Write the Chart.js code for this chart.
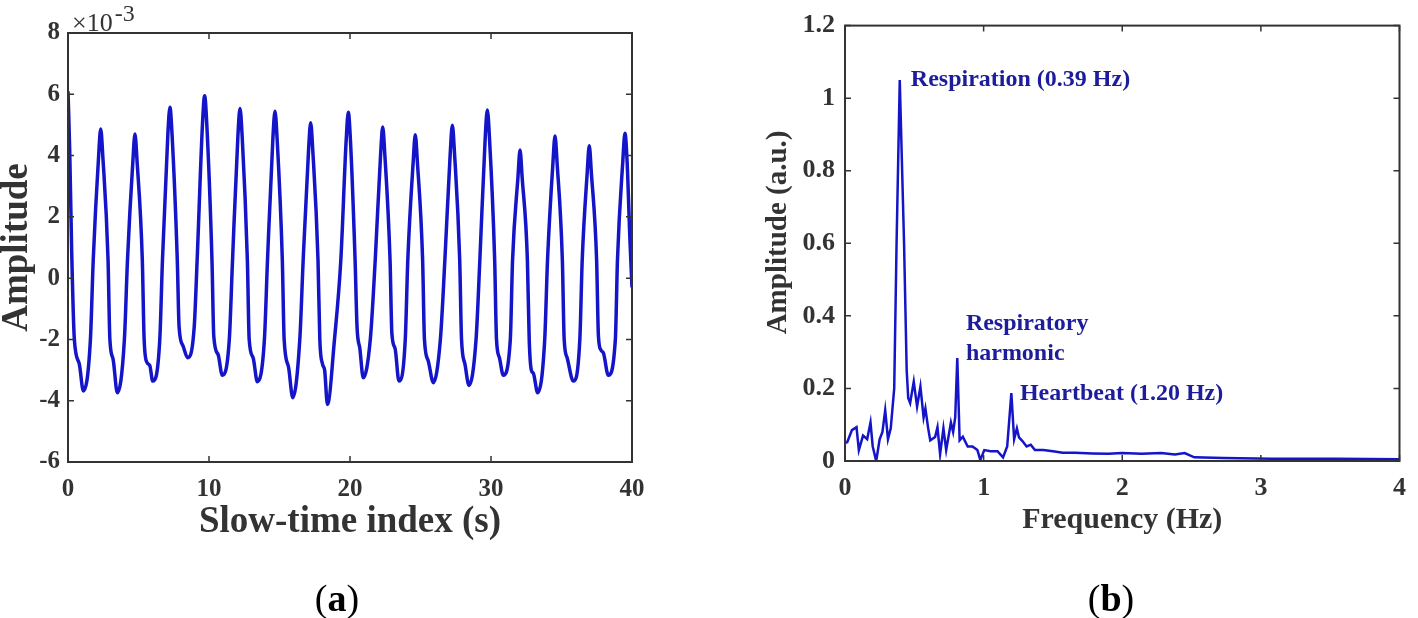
<!DOCTYPE html>
<html><head><meta charset="utf-8">
<script src="https://cdn.jsdelivr.net/npm/chart.js@4.4.1/dist/chart.umd.min.js"></script>
<style>
html,body{margin:0;padding:0;background:#fff;width:1418px;height:618px;overflow:hidden;}
canvas{position:absolute;top:0;}
#ca{left:0}
#cb{left:709px}
.lab{position:absolute;top:579px;width:80px;text-align:center;font-family:"Liberation Serif",serif;font-size:38px;line-height:38px;color:#000;}
</style></head><body>
<canvas id="ca" width="709" height="618"></canvas>
<canvas id="cb" width="709" height="618"></canvas>
<div class="lab" style="left:297px">(<b>a</b>)</div>
<div class="lab" style="left:1071px">(<b>b</b>)</div>
<script>
// ---- panel (a): slow-time signal (amplitude in units of 1e-3) ----
const timeS = [0,0.12,0.26,0.45,0.8,1.09,
1.59,1.79,2.17,2.32,2.47,2.84,2.97,3.2,3.5,
4.0,4.22,4.6,4.75,4.9,5.27,5.4,5.6,5.8,6.01,
6.51,6.70,7.08,7.23,7.38,7.75,7.88,8.15,8.49,
8.95,9.16,9.54,9.69,9.84,10.21,10.34,10.65,10.94,
11.44,11.67,12.05,12.2,12.35,12.72,12.85,13.13,13.43,
13.93,14.15,14.53,14.68,14.83,15.2,15.33,15.64,15.94,
16.44,16.68,17.06,17.21,17.36,17.73,17.86,18.05,18.2,18.4,
18.9,19.35,19.73,19.88,20.03,20.36,20.5,20.7,20.94,
21.44,21.79,22.17,22.32,22.47,22.84,22.97,23.2,23.47,
23.92,24.1,24.48,24.63,24.78,25.15,25.28,25.55,25.91,
26.41,26.73,27.11,27.26,27.41,27.78,27.91,28.15,28.44,
28.94,29.21,29.59,29.74,29.89,30.26,30.39,30.6,30.87,
31.37,31.53,31.91,32.06,32.21,32.58,32.71,32.86,33.0,33.31,
33.81,34.01,34.39,34.54,34.69,35.06,35.19,35.4,35.84,
36.3,36.47,36.82,36.97,37.12,37.49,37.62,37.8,37.98,38.32,
38.82,38.97,39.35,39.5,39.65,39.85,40];
const amplitude = [6.1,4.2,0.9,-2.0,-2.8,-3.68,
-2.0,0.6,3.97,4.87,3.97,0.6,-2.0,-2.65,-3.74,
-2.0,0.6,3.8,4.70,3.8,0.6,-2.0,-2.75,-2.85,-3.36,
-2.0,0.6,4.68,5.58,4.68,0.6,-1.6,-2.2,-2.6,
-1.6,0.6,5.05,5.95,5.05,0.6,-1.9,-2.5,-3.17,
-2.0,0.6,4.64,5.54,4.64,0.6,-2.0,-2.6,-3.38,
-2.0,0.6,4.55,5.45,4.55,0.6,-2.0,-2.9,-3.9,
-2.0,0.6,4.17,5.07,4.17,0.6,-2.0,-2.8,-3.0,-4.12,
-2.0,0.6,4.51,5.41,4.51,0.6,-1.6,-2.3,-3.25,
-2.0,0.6,4.03,4.93,4.03,0.6,-1.8,-2.3,-3.36,
-2.0,0.6,3.78,4.68,3.78,0.6,-2.0,-2.7,-3.41,
-2.0,0.6,4.09,4.99,4.09,0.6,-2.0,-2.8,-3.5,
-2.0,0.6,4.59,5.49,4.59,0.6,-2.0,-2.6,-3.17,
-2.0,0.6,3.28,4.18,3.28,0.6,-2.0,-3.0,-3.1,-3.74,
-2.0,0.6,3.74,4.64,3.74,0.6,-2.0,-2.6,-3.36,
-2.0,0.6,3.42,4.32,3.42,0.6,-1.9,-2.35,-2.45,-3.17,
-2.0,0.6,3.83,4.73,3.83,1.3,-0.3];
const xTicksA = [0,10,20,30,40];
const yTicksA = [-6,-4,-2,0,2,4,6,8];

// ---- panel (b): spectrum ----
const freqHz = [0,0.016,0.05,0.083,0.10,0.13,0.16,0.184,0.2,0.225,0.25,0.27,0.29,0.31,0.33,0.355,0.372,0.395,0.426,0.445,0.456,0.47,0.496,0.52,0.544,0.567,0.58,0.6,0.615,0.65,0.667,0.686,0.71,0.73,0.764,0.78,0.795,0.81,0.827,0.85,0.885,0.92,0.955,0.976,1.005,1.05,1.1,1.14,1.17,1.2,1.22,1.24,1.255,1.28,1.31,1.34,1.37,1.43,1.5,1.57,1.66,1.785,1.9,2.0,2.14,2.28,2.38,2.45,2.52,2.73,3.08,3.55,4.0];
const spectrum = [0.05,0.052,0.085,0.093,0.03,0.07,0.06,0.106,0.04,0.0,0.06,0.08,0.14,0.06,0.09,0.2,0.6,1.05,0.6,0.25,0.174,0.16,0.219,0.15,0.205,0.12,0.145,0.09,0.057,0.066,0.093,0.019,0.09,0.03,0.106,0.08,0.12,0.284,0.057,0.067,0.04,0.04,0.03,0.003,0.03,0.027,0.027,0.01,0.04,0.187,0.06,0.09,0.065,0.055,0.04,0.045,0.03,0.03,0.027,0.023,0.023,0.021,0.02,0.022,0.02,0.022,0.018,0.022,0.01,0.008,0.006,0.006,0.005];
const xTicksB = [0,1,2,3,4];
const yTicksB = [0,0.2,0.4,0.6,0.8,1,1.2];
const yTickLabelsB = ['0','0.2','0.4','0.6','0.8','1','1.2'];

const annoText = ['Respiration (0.39 Hz)','Respiratory','harmonic','Heartbeat (1.20 Hz)'];
const annoFreq = [0.475,0.872,0.872,1.262];
const annoAmp = [1.052,0.377,0.296,0.186];

const FONT = '"Liberation Serif", "Times New Roman", serif';
const AXC = '#333333';
const LINEC = '#1414c8';
const ANNC = '#1c1c9c';

const boxTicks = {
  id: 'boxTicks',
  afterDatasetsDraw(chart) {
    const {ctx, chartArea: a, scales: {x, y}} = chart;
    const L = 6;
    ctx.save();
    ctx.strokeStyle = AXC;
    ctx.lineWidth = 1.5;
    ctx.beginPath();
    x.ticks.forEach(t => {
      const p = x.getPixelForValue(t.value);
      ctx.moveTo(p, a.bottom); ctx.lineTo(p, a.bottom - L);
      ctx.moveTo(p, a.top); ctx.lineTo(p, a.top + L);
    });
    y.ticks.forEach(t => {
      const p = y.getPixelForValue(t.value);
      ctx.moveTo(a.left, p); ctx.lineTo(a.left + L, p);
      ctx.moveTo(a.right, p); ctx.lineTo(a.right - L, p);
    });
    ctx.stroke();
    ctx.lineWidth = 2;
    ctx.strokeRect(a.left, a.top, a.right - a.left, a.bottom - a.top);
    ctx.restore();
  }
};

const expoLabel = {
  id: 'expoLabel',
  afterDraw(chart) {
    const {ctx, chartArea: a} = chart;
    ctx.save();
    ctx.fillStyle = AXC;
    ctx.textBaseline = 'alphabetic';
    ctx.font = '26px ' + FONT;
    const base = '\u00d710';
    ctx.fillText(base, a.left + 4, a.top - 2);
    const w = ctx.measureText(base).width;
    ctx.font = '24px ' + FONT;
    ctx.fillText('-3', a.left + 6 + w, a.top - 12);
    ctx.restore();
  }
};

const annot = {
  id: 'annot',
  afterDatasetsDraw(chart) {
    const {ctx, scales: {x, y}} = chart;
    ctx.save();
    ctx.fillStyle = ANNC;
    ctx.font = 'bold 24px ' + FONT;
    ctx.textBaseline = 'middle';
    ctx.textAlign = 'left';
    annoText.forEach((t, i) => ctx.fillText(t, x.getPixelForValue(annoFreq[i]), y.getPixelForValue(annoAmp[i])));
    ctx.restore();
  }
};

function tickFont(size, pad, cb) {
  const o = {font: {family: FONT, size: size, weight: 'bold'}, color: AXC, maxRotation: 0, autoSkip: false, padding: pad};
  if (cb) o.callback = cb;
  return o;
}
const noGrid = {display: false, drawTicks: false};

new Chart(document.getElementById('ca'), {
  type: 'line',
  data: {datasets: [{
    data: timeS.map((t, i) => ({x: t, y: amplitude[i]})),
    borderColor: LINEC, borderWidth: 3.5, pointRadius: 0, fill: false,
    cubicInterpolationMode: 'monotone'
  }]},
  options: {
    responsive: false, animation: false, devicePixelRatio: 1,
    layout: {padding: {left: 0, right: 77, top: 33, bottom: 0}},
    plugins: {legend: {display: false}, tooltip: {enabled: false}},
    scales: {
      x: {
        type: 'linear', min: 0, max: 40,
        grid: noGrid, border: {display: false},
        ticks: tickFont(25, 13),
        afterBuildTicks: s => { s.ticks = xTicksA.map(v => ({value: v})); },
        afterFit: s => { s.height = 156; },
        title: {display: true, text: 'Slow-time index (s)', color: AXC,
          font: {family: FONT, size: 37, weight: 'bold'}, padding: {top: 0, bottom: 73}}
      },
      y: {
        type: 'linear', min: -6, max: 8,
        grid: noGrid, border: {display: false},
        ticks: tickFont(25, 8),
        afterBuildTicks: s => { s.ticks = yTicksA.map(v => ({value: v})); },
        afterFit: s => { s.width = 68; },
        title: {display: true, text: 'Amplitude', color: AXC,
          font: {family: FONT, size: 37, weight: 'bold', lineHeight: 1}, padding: {top: -1, bottom: 0}}
      }
    }
  },
  plugins: [boxTicks, expoLabel]
});

new Chart(document.getElementById('cb'), {
  type: 'line',
  data: {datasets: [{
    data: freqHz.map((f, i) => ({x: f, y: spectrum[i]})),
    borderColor: LINEC, borderWidth: 2.5, pointRadius: 0, fill: false, tension: 0
  }]},
  options: {
    responsive: false, animation: false, devicePixelRatio: 1,
    layout: {padding: {left: 0, right: 9, top: 17, bottom: 0}},
    plugins: {legend: {display: false}, tooltip: {enabled: false}},
    scales: {
      x: {
        type: 'linear', min: 0, max: 4,
        grid: noGrid, border: {display: false},
        ticks: tickFont(26, 12),
        afterBuildTicks: s => { s.ticks = xTicksB.map(v => ({value: v})); },
        afterFit: s => { s.height = 157; },
        title: {display: true, text: 'Frequency (Hz)', color: AXC,
          font: {family: FONT, size: 30, weight: 'bold'}, padding: {top: 0, bottom: 80}}
      },
      y: {
        type: 'linear', min: 0, max: 1.2,
        grid: noGrid, border: {display: false},
        ticks: tickFont(26, 10, (v, i) => yTickLabelsB[i]),
        afterBuildTicks: s => { s.ticks = yTicksB.map(v => ({value: v})); },
        afterFit: s => { s.width = 136; },
        title: {display: true, text: '   Amplitude (a.u.)', color: AXC,
          font: {family: FONT, size: 29, weight: 'bold'}, padding: {top: 52, bottom: 0}}
      }
    }
  },
  plugins: [boxTicks, annot]
});
</script>
</body></html>
